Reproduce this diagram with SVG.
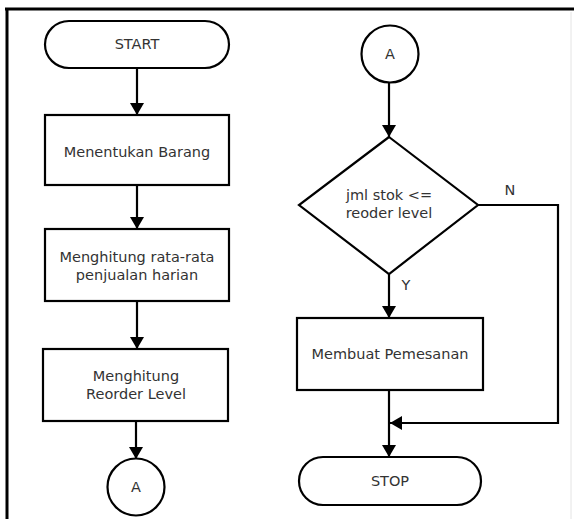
<svg xmlns="http://www.w3.org/2000/svg" width="574" height="519" viewBox="0 0 574 519">
<defs>
<style>
.s{fill:#fff;stroke:#000;stroke-width:2.2}
.c{fill:none;stroke:#000;stroke-width:2.2}
.t{font-family:"DejaVu Sans",sans-serif;font-size:14.5px;fill:#333;text-anchor:middle}
</style>
<marker id="ah" viewBox="0 0 12 14" refX="12" refY="7" markerWidth="12" markerHeight="14" markerUnits="userSpaceOnUse" orient="auto">
<path d="M0,0 L12,7 L0,14 Z" fill="#000"/>
</marker>
</defs>
<rect x="0" y="0" width="574" height="519" fill="#fff"/>
<line x1="5" y1="9" x2="574" y2="9" stroke="#000" stroke-width="3"/>
<line x1="7" y1="8" x2="7" y2="519" stroke="#000" stroke-width="3"/>
<line x1="571" y1="12" x2="571" y2="519" stroke="#e4e4e4" stroke-width="1"/>
<g id="connectors">
<line class="c" x1="137" y1="68" x2="137" y2="115" marker-end="url(#ah)"/>
<line class="c" x1="137" y1="185" x2="137" y2="229" marker-end="url(#ah)"/>
<line class="c" x1="137" y1="301" x2="137" y2="349" marker-end="url(#ah)"/>
<line class="c" x1="136" y1="421" x2="136" y2="459" marker-end="url(#ah)"/>
<line class="c" x1="389" y1="82" x2="389" y2="137" marker-end="url(#ah)"/>
<line class="c" x1="389" y1="274" x2="389" y2="318" marker-end="url(#ah)"/>
<line class="c" x1="389" y1="390" x2="389" y2="457" marker-end="url(#ah)"/>
<polyline class="c" points="478,205 558,205 558,423 390,423" marker-end="url(#ah)"/>
<text class="t" x="510" y="195">N</text>
<text class="t" x="406" y="290">Y</text>
</g>
<g id="start">
<path class="s" d="M69,21 H205 A24,23.5 0 0 1 205,68 H69 A24,23.5 0 0 1 69,21 Z"/>
<text class="t" x="137" y="49">START</text>
</g>
<g id="menentukan">
<rect class="s" x="45" y="115" width="184" height="70"/>
<text class="t" x="137" y="157">Menentukan Barang</text>
</g>
<g id="rata">
<rect class="s" x="45" y="229" width="184" height="72"/>
<text class="t" x="137" y="262">Menghitung rata-rata</text>
<text class="t" x="137" y="280">penjualan harian</text>
</g>
<g id="reorder">
<rect class="s" x="43" y="349" width="185" height="72"/>
<text class="t" x="136" y="381">Menghitung</text>
<text class="t" x="136" y="399">Reorder Level</text>
</g>
<g id="conA1">
<circle class="s" cx="136" cy="487" r="28.5"/>
<text class="t" x="136" y="492">A</text>
</g>
<g id="conA2">
<circle class="s" cx="390" cy="54" r="28.5"/>
<text class="t" x="390" y="59">A</text>
</g>
<g id="decision">
<polygon class="s" points="389,137 478,205 389,274 299,205"/>
<text class="t" x="389" y="200">jml stok &lt;=</text>
<text class="t" x="389" y="218">reoder level</text>
</g>
<g id="pesan">
<rect class="s" x="297" y="318" width="186" height="72"/>
<text class="t" x="390" y="359">Membuat Pemesanan</text>
</g>
<g id="stop">
<path class="s" d="M323,457 H457 A24,24 0 0 1 457,505 H323 A24,24 0 0 1 323,457 Z"/>
<text class="t" x="390" y="486">STOP</text>
</g>
</svg>
